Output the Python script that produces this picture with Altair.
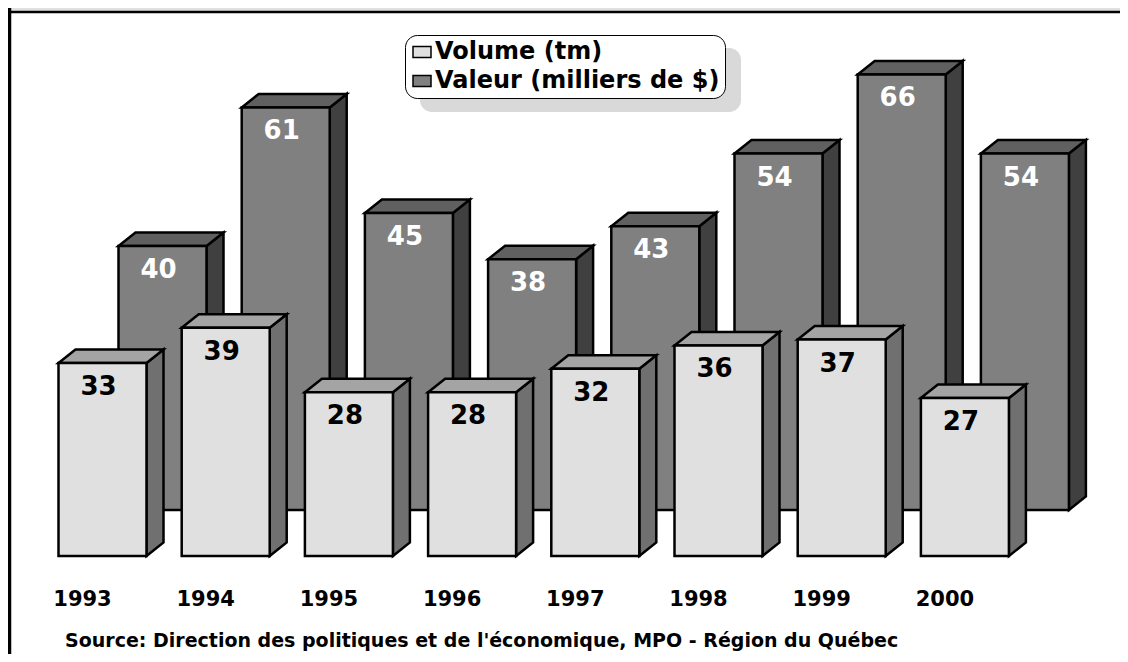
import altair as alt
import pandas as pd

# ---------------- data ----------------
YEARS = ["1993", "1994", "1995", "1996", "1997", "1998", "1999", "2000"]
VOLUME = [33, 39, 28, 28, 32, 36, 37, 27]          # Volume (tm)
VALEUR = [40, 61, 45, 38, 43, 54, 66, 54]          # Valeur (milliers de $)
SERIES = ["Volume (tm)", "Valeur (milliers de $)"]
SOURCE = "Source: Direction des politiques et de l'économique, MPO - Région du Québec"

# ---------------- layout constants ----------------
W, H = 1112, 646
STEP = 123.2            # px per category
X0 = 94.5               # px of first front-bar centre
HALF = 44 / STEP        # half bar width (category units)
DEPTH_X = 17 / STEP     # 3-D depth, horizontal
DEPTH_PX = 13.5         # 3-D depth, vertical (px)
BACK_SHIFT = 60 / STEP  # back row shift to the right

FRONT_BASE, FRONT_PPU = 548, 5.85
BACK_BASE, BACK_PPU = 502, 6.6

XDOM = [-X0 / STEP, (W - X0) / STEP]
YDOM_FRONT = [(FRONT_BASE - H) / FRONT_PPU, FRONT_BASE / FRONT_PPU]
YDOM_BACK = [(BACK_BASE - H) / BACK_PPU, BACK_BASE / BACK_PPU]

FONT = "DejaVu Sans"


def geometry(values, shift, ppu, serie):
    dy = DEPTH_PX / ppu
    rects, sides, tops = [], [], []
    for i, (yr, v) in enumerate(zip(YEARS, values)):
        c = i + shift
        x0, x1 = c - HALF, c + HALF
        rects.append(dict(year=yr, serie=serie, c=c, x0=x0, x1=x1, v=v, b=0))
        sides += [dict(id=yr, x=x1, lo=0, hi=v),
                  dict(id=yr, x=x1 + DEPTH_X, lo=dy, hi=v + dy)]
        tops += [dict(id=yr, x=x0, lo=v, hi=v),
                 dict(id=yr, x=x0 + DEPTH_X, lo=v, hi=v + dy),
                 dict(id=yr, x=x1, lo=v, hi=v + dy),
                 dict(id=yr, x=x1 + DEPTH_X, lo=v + dy, hi=v + dy)]
    return pd.DataFrame(rects), pd.DataFrame(sides), pd.DataFrame(tops)


xs = alt.Scale(domain=XDOM, nice=False, zero=False)

color = alt.Color(
    "serie:N",
    scale=alt.Scale(domain=SERIES, range=["#e0e0e0", "#808080"]),
    legend=alt.Legend(
        title=None, orient="none", legendX=397, legendY=27, direction="vertical",
        fillColor="white", strokeColor="black", cornerRadius=12, padding=5,
        labelFont=FONT, labelFontSize=24, labelFontWeight="bold", labelColor="black",
        labelLimit=0, labelOffset=1, symbolType="M-1,-0.6H1V0.6H-1Z", symbolSize=324,
        symbolStrokeColor="black", symbolStrokeWidth=1.5, rowPadding=5,
    ),
)


def bar_layers(values, shift, ppu, dom, serie, side_col, top_col, text_col):
    rects, sides, tops = geometry(values, shift, ppu, serie)
    ys = alt.Scale(domain=dom, nice=False, zero=False)
    side = alt.Chart(sides).mark_area(
        fill=side_col, fillOpacity=1, stroke="black", strokeWidth=2.5, strokeJoin="miter"
    ).encode(
        x=alt.X("x:Q", scale=xs, axis=None),
        y=alt.Y("lo:Q", scale=ys, axis=None, stack=None),
        y2="hi:Q",
        detail="id:N",
    )
    top = alt.Chart(tops).mark_area(
        fill=top_col, fillOpacity=1, stroke="black", strokeWidth=2.5, strokeJoin="miter"
    ).encode(
        x=alt.X("x:Q", scale=xs, axis=None),
        y=alt.Y("lo:Q", scale=ys, axis=None, stack=None),
        y2="hi:Q",
        detail="id:N",
    )
    front = alt.Chart(rects).mark_rect(stroke="black", strokeWidth=2.5, opacity=1).encode(
        x=alt.X("x0:Q", scale=xs, axis=None),
        x2="x1:Q",
        y=alt.Y("v:Q", scale=ys, axis=None),
        y2="b:Q",
        color=color,
    )
    text = alt.Chart(rects).mark_text(
        font=FONT, fontSize=26, fontWeight="bold", color=text_col,
        align="center", baseline="middle", dx=-4, dy=24,
    ).encode(
        x=alt.X("c:Q", scale=xs, axis=None),
        y=alt.Y("v:Q", scale=ys, axis=None),
        text="v:Q",
    )
    return [side, top, front, text]


back = bar_layers(VALEUR, BACK_SHIFT, BACK_PPU, YDOM_BACK, SERIES[1],
                  "#404040", "#606060", "white")
front = bar_layers(VOLUME, 0, FRONT_PPU, YDOM_FRONT, SERIES[0],
                   "#707070", "#a4a4a4", "black")

years_df = pd.DataFrame({"year": YEARS, "c": list(range(len(YEARS)))})
year_labels = alt.Chart(years_df).mark_text(
    font=FONT, fontSize=21, fontWeight="bold", color="black",
    align="center", baseline="middle", dx=-20,
).encode(
    x=alt.X("c:Q", scale=xs, axis=None),
    y=alt.value(592),
    text="year:N",
)

one = alt.Data(values=[{"t": SOURCE}])
source = alt.Chart(one).mark_text(
    font=FONT, fontSize=19, fontWeight="bold", color="black",
    align="left", baseline="middle",
).encode(x=alt.value(57), y=alt.value(633), text="t:N")

shadow = alt.Chart(one).mark_rect(fill="#d9d9d9", cornerRadius=12).encode(
    x=alt.value(412), x2=alt.value(733), y=alt.value(40), y2=alt.value(104)
)
band = alt.Chart(one).mark_rect(fill="#e0e0e0").encode(
    x=alt.value(0), x2=alt.value(W), y=alt.value(0), y2=alt.value(4)
)
top_line = alt.Chart(one).mark_rule(color="black", strokeWidth=2.5).encode(
    x=alt.value(0), x2=alt.value(W), y=alt.value(4)
)
left_line = alt.Chart(one).mark_rule(color="black", strokeWidth=3.5).encode(
    x=alt.value(1.5), y=alt.value(0), y2=alt.value(H)
)

chart = alt.layer(
    band, shadow, *back, *front, year_labels, source, top_line, left_line
).resolve_scale(
    y="independent"
).properties(
    width=W, height=H, autosize=alt.AutoSizeParams(type="none"), padding=0,
    background="white",
).configure_view(stroke=None)

chart.save("out.html", embed_options={"renderer": "svg", "actions": False})
